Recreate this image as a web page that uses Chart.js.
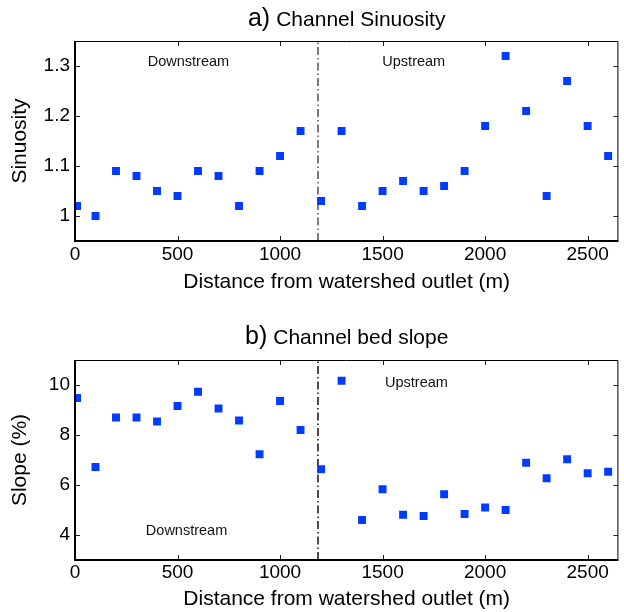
<!DOCTYPE html>
<html>
<head>
<title>Channel sinuosity and bed slope</title>
<script src="https://cdn.jsdelivr.net/npm/chart.js@4"></script>
<style>
  body { margin: 0; background: #fff; }
  #wrap { position: relative; width: 624px; height: 612px; }
  canvas { position: absolute; left: 0; }
</style>
</head>
<body>
<div id="wrap">
  <canvas id="sinChart" width="624" height="300" style="top:0"></canvas>
  <canvas id="slopeChart" width="624" height="312" style="top:300px"></canvas>
</div>
<script>
// distance from outlet (m) of each measured reach
const distance = [10, 100, 200, 300, 400, 500, 600, 700, 800, 900, 1000, 1100, 1200,
  1300, 1400, 1500, 1600, 1700, 1800, 1900, 2000, 2100, 2200, 2300, 2400, 2500, 2600];
const sinuosity = [1.02, 1.00, 1.09, 1.08, 1.05, 1.04, 1.09, 1.08, 1.02, 1.09, 1.12, 1.17, 1.03,
  1.17, 1.02, 1.05, 1.07, 1.05, 1.06, 1.09, 1.18, 1.32, 1.21, 1.04, 1.27, 1.18, 1.12];
const slope = [9.48, 6.72, 8.70, 8.70, 8.54, 9.16, 9.73, 9.06, 8.58, 7.23, 9.36, 8.20, 6.63,
  10.17, 4.60, 5.83, 4.81, 4.76, 5.63, 4.84, 5.10, 5.00, 6.89, 6.27, 7.03, 6.47, 6.53];

const xTicks = [0, 500, 1000, 1500, 2000, 2500];
const xTickLabels = ['0', '500', '1000', '1500', '2000', '2500'];
const sinTicks = [1, 1.1, 1.2, 1.3];
const sinTickLabels = ['1', '1.1', '1.2', '1.3'];
const slopeTicks = [4, 6, 8, 10];
const slopeTickLabels = ['4', '6', '8', '10'];
const divideAt = 1185;   // downstream / upstream boundary (m)

const FONT = '"Liberation Sans", Arial, Helvetica, sans-serif';
const BLUE = '#003cff';

// frame with inward ticks, region labels and panel title
const framePlugin = {
  id: 'frame',
  afterDraw(chart, args, opts) {
    const {ctx, chartArea: a} = chart;
    const x = chart.scales.x, y = chart.scales.y;
    ctx.save();
    ctx.strokeStyle = '#222';
    ctx.lineWidth = 1;
    ctx.beginPath();
    x.ticks.forEach(t => {
      const px = Math.round(x.getPixelForValue(t.value)) + 0.5;
      ctx.moveTo(px, a.bottom); ctx.lineTo(px, a.bottom - 5);
      ctx.moveTo(px, a.top); ctx.lineTo(px, a.top + 5);
    });
    y.ticks.forEach(t => {
      const py = Math.round(y.getPixelForValue(t.value)) + 0.5;
      ctx.moveTo(a.left, py); ctx.lineTo(a.left + 5, py);
      ctx.moveTo(a.right, py); ctx.lineTo(a.right - 5, py);
    });
    ctx.stroke();

    ctx.strokeStyle = '#000';
    ctx.beginPath();
    ctx.moveTo(a.left, a.top + 0.5); ctx.lineTo(a.right - 0.5, a.top + 0.5); ctx.lineTo(a.right - 0.5, a.bottom);
    ctx.stroke();
    ctx.lineWidth = 2;
    ctx.beginPath();
    ctx.moveTo(a.left, a.top); ctx.lineTo(a.left, a.bottom); ctx.lineTo(a.right, a.bottom);
    ctx.stroke();

    ctx.fillStyle = '#111';
    ctx.font = '14.5px ' + FONT;
    ctx.textAlign = 'center';
    ctx.textBaseline = 'middle';
    opts.notes.forEach(n => ctx.fillText(n.text, x.getPixelForValue(n.x), y.getPixelForValue(n.y)));

    // title: bigger panel letter, then the name
    ctx.fillStyle = '#000';
    ctx.textBaseline = 'alphabetic';
    ctx.textAlign = 'left';
    ctx.font = '25px ' + FONT;
    const tagW = ctx.measureText(opts.tag).width;
    ctx.font = '21px ' + FONT;
    const txtW = ctx.measureText(opts.title).width;
    let left = (a.left + a.right) / 2 - (tagW + 6 + txtW) / 2;
    ctx.font = '25px ' + FONT;
    ctx.fillText(opts.tag, left, opts.titleY);
    ctx.font = '21px ' + FONT;
    ctx.fillText(opts.title, left + tagW + 6, opts.titleY);
    ctx.restore();
  }
};

function makeChart(id, values, yMin, yMax, yTicks, yLabels, yTitle, lineColor, layout, notes) {
  const pts = distance.map((d, i) => ({x: d, y: values[i]}));
  return new Chart(document.getElementById(id), {
    type: 'scatter',
    data: {
      datasets: [{
        data: pts,
        pointStyle: 'rect',
        pointRadius: 5.6,
        pointHoverRadius: 5.6,
        backgroundColor: BLUE,
        borderWidth: 0,
        order: 1
      }, {
        type: 'line',
        data: [{x: divideAt, y: yMin}, {x: divideAt, y: yMax}],
        borderColor: lineColor,
        borderWidth: 1.4,
        borderDash: [8, 3, 1.5, 3],
        pointRadius: 0,
        order: 2
      }]
    },
    options: {
      responsive: false,
      animation: false,
      layout: {padding: {top: layout.top, right: 2, left: 0, bottom: 0}},
      plugins: {
        legend: {display: false},
        tooltip: {enabled: false},
        frame: {notes: notes, tag: layout.tag, title: layout.title, titleY: layout.titleY}
      },
      scales: {
        x: {
          type: 'linear', min: 0, max: 2650,
          grid: {display: false, drawTicks: false, tickLength: 0}, border: {display: false},
          afterBuildTicks: s => { s.ticks = xTicks.map(v => ({value: v})); },
          afterFit: s => { s.height = layout.xHeight; },
          ticks: {color: '#000', padding: layout.tickPad, font: {family: FONT, size: 19}, maxRotation: 0,
            callback: (v, i) => xTickLabels[i]},
          title: {display: true, text: 'Distance from watershed outlet (m)', color: '#000',
            font: {family: FONT, size: 21}, padding: {top: 0, bottom: layout.titlePad}}
        },
        y: {
          type: 'linear', min: yMin, max: yMax,
          grid: {display: false, drawTicks: false, tickLength: 0}, border: {display: false},
          afterBuildTicks: s => { s.ticks = yTicks.map(v => ({value: v})); },
          afterFit: s => { s.width = 75; },
          ticks: {color: '#000', padding: 5, font: {family: FONT, size: 19},
            callback: (v, i) => yLabels[i]},
          title: {display: true, text: yTitle, color: '#000',
            font: {family: FONT, size: 21}, padding: {top: 8, bottom: 0}}
        }
      }
    },
    plugins: [framePlugin]
  });
}

makeChart('sinChart', sinuosity, 0.95, 1.35, sinTicks, sinTickLabels, 'Sinuosity', '#444',
  {top: 41, xHeight: 59, tickPad: 2, titlePad: 5, tag: 'a)', title: 'Channel Sinuosity', titleY: 26},
  [{text: 'Downstream', x: 553, y: 1.308}, {text: 'Upstream', x: 1652, y: 1.308}]);

makeChart('slopeChart', slope, 3, 11, slopeTicks, slopeTickLabels, 'Slope (%)', '#000',
  {top: 60, xHeight: 52, tickPad: 1, titlePad: 0, tag: 'b)', title: 'Channel bed slope', titleY: 44},
  [{text: 'Upstream', x: 1665, y: 10.09}, {text: 'Downstream', x: 544, y: 4.17}]);
</script>
</body>
</html>
